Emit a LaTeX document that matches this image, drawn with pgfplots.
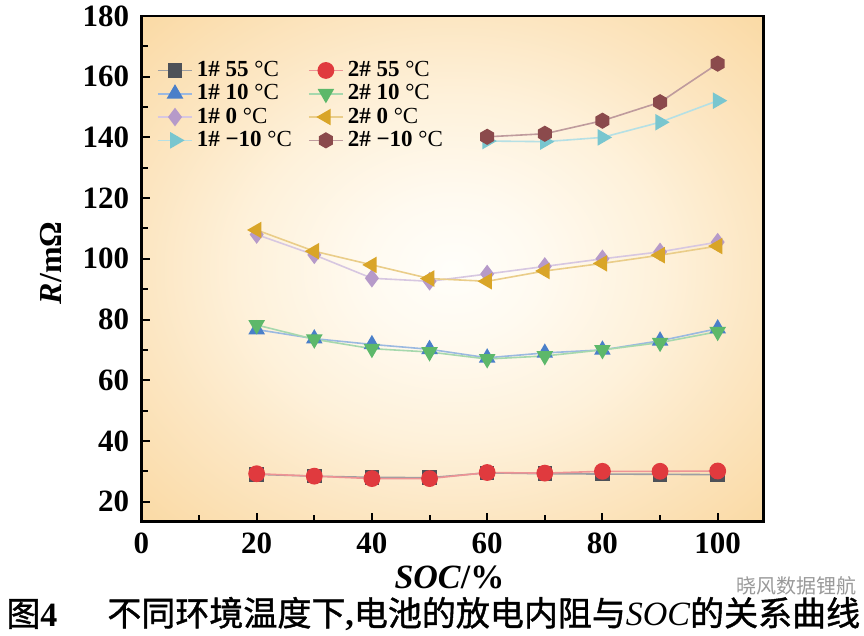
\documentclass[border=0pt]{standalone}
\usepackage{fontspec}
\setmainfont{Liberation Serif}
\newfontfamily\cjk[FakeBold=1.2]{Noto Sans CJK SC}
\newfontfamily\cjkw{Noto Sans CJK SC}
\usepackage{pgfplots}
\pgfplotsset{compat=1.18}

\definecolor{cA}{HTML}{4D5158}
\definecolor{cB}{HTML}{E03A3E}
\definecolor{cC}{HTML}{4A7FC9}
\definecolor{cD}{HTML}{5DB86A}
\definecolor{cE}{HTML}{B69AC9}
\definecolor{cF}{HTML}{D9A528}
\definecolor{cG}{HTML}{79C6CF}
\definecolor{cH}{HTML}{8B4A4C}
\definecolor{bg0}{HTML}{FFFEFA}
\definecolor{bg1}{HTML}{FFFAF0}
\definecolor{bg2}{HTML}{FEF1DA}
\definecolor{bg3}{HTML}{FCE6C2}
\definecolor{bg4}{HTML}{FAD9A3}

\pgfdeclareradialshading{bgshade}{\pgfpointorigin}{color(0bp)=(bg0); color(7bp)=(bg1); color(17bp)=(bg2); color(25bp)=(bg3); color(36bp)=(bg4); color(50bp)=(bg4)}

\pgfdeclareplotmark{hexagon}{%
  \pgfpathmoveto{\pgfqpointpolar{90}{\pgfplotmarksize}}%
  \pgfpathlineto{\pgfqpointpolar{150}{\pgfplotmarksize}}%
  \pgfpathlineto{\pgfqpointpolar{210}{\pgfplotmarksize}}%
  \pgfpathlineto{\pgfqpointpolar{270}{\pgfplotmarksize}}%
  \pgfpathlineto{\pgfqpointpolar{330}{\pgfplotmarksize}}%
  \pgfpathlineto{\pgfqpointpolar{30}{\pgfplotmarksize}}%
  \pgfpathclose
  \pgfusepathqfillstroke}

\begin{document}
\begin{tikzpicture}
\path[use as bounding box] (0,0) rectangle (432pt,318pt);
\begin{axis}[
  at={(70.7pt,57.15pt)}, anchor=south west,
  scale only axis, width=311.2pt, height=252.85pt,
  xmin=0, xmax=108, ymin=13.4, ymax=180,
  xtick={0,20,...,100}, ytick={20,40,...,180},
  minor x tick num=1, minor y tick num=1,
  tick pos=left, tick align=inside,
  major tick length=4.5pt, minor tick length=3.5pt,
  every tick/.style={black, line width=1pt},
  axis line style={line width=1.3pt},
  axis background/.style={shade, shading=bgshade},
  /pgf/number format/assume math mode=true,
  ticklabel style={font=\bfseries\fontsize{15.5}{18}\selectfont},
  xticklabel style={yshift=-2.2pt},
  yticklabel style={xshift=-2.6pt},
  xlabel={\textbf{\textit{SOC}/\%}},
  ylabel={\textbf{\textit{R}/m\symbol{"03A9}}},
  xlabel style={at={(axis description cs:0.495,0)}, anchor=center, yshift=-28pt, font=\fontsize{17}{20}\selectfont},
  ylabel style={at={([xshift=-45pt]axis description cs:0,0.512)}, anchor=center, rotate=0, font=\fontsize{16}{19}\selectfont},
  legend style={at={(axis description cs:0.015,0.927)}, anchor=north west, draw=none, fill=none,
    font=\bfseries\fontsize{11.5}{12}\selectfont,
    /tikz/every even column/.append style={column sep=6pt},
    row sep=-1.5pt},
  legend columns=2, legend cell align=left,
  every axis plot/.append style={line width=0.8pt},
]
\addplot[color=cA!55!white, mark=square*, mark size=3.25pt, mark options={draw=cA, fill=cA}]
 coordinates {(20,29.0)(30,28.4)(40,28.0)(50,27.9)(60,29.5)(70,29.2)(80,29.1)(90,29.0)(100,28.9)};
\addlegendentry{1\# 55 {\mdseries °C}}
\addplot[color=cB!55!white, mark=*, mark size=3.8pt, mark options={draw=cB, fill=cB}]
 coordinates {(20,29.2)(30,28.4)(40,27.6)(50,27.6)(60,29.6)(70,29.4)(80,30.0)(90,30.0)(100,30.1)};
\addlegendentry{2\# 55 {\mdseries °C}}
\addplot[color=cC!55!white, mark=triangle*, mark size=4pt, mark options={draw=cC, fill=cC}]
 coordinates {(20,76.7)(30,73.7)(40,71.8)(50,70.2)(60,67.4)(70,69.0)(80,70.0)(90,73.0)(100,77.0)};
\addlegendentry{1\# 10 {\mdseries °C}}
\addplot[color=cD!55!white, mark=triangle*, mark size=4pt, mark options={draw=cD, fill=cD, rotate=180}]
 coordinates {(20,78.2)(30,73.5)(40,70.4)(50,69.3)(60,67.0)(70,68.0)(80,70.0)(90,72.4)(100,76.0)};
\addlegendentry{2\# 10 {\mdseries °C}}
\addplot[color=cE!55!white, mark=diamond*, mark size=4pt, mark options={draw=cE, fill=cE}]
 coordinates {(20,108.0)(30,101.3)(40,93.6)(50,92.6)(60,95.0)(70,97.5)(80,100.0)(90,102.3)(100,105.5)};
\addlegendentry{1\# 0 {\mdseries °C}}
\addplot[color=cF!55!white, mark=triangle*, mark size=4pt, mark options={draw=cF, fill=cF, rotate=90}]
 coordinates {(20,109.5)(30,102.5)(40,98.0)(50,93.5)(60,92.6)(70,96.0)(80,98.5)(90,101.2)(100,104.2)};
\addlegendentry{2\# 0 {\mdseries °C}}
\addplot[color=cG!55!white, mark=triangle*, mark size=4pt, mark options={draw=cG, fill=cG, rotate=-90}]
 coordinates {(60,138.8)(70,138.6)(80,140.0)(90,145.0)(100,152.1)};
\addlegendentry{1\# −10 {\mdseries °C}}
\addplot[color=cH!55!white, mark=hexagon, mark size=3.6pt, mark options={draw=cH, fill=cH}]
 coordinates {(60,140.2)(70,141.2)(80,145.5)(90,151.6)(100,164.3)};
\addlegendentry{2\# −10 {\mdseries °C}}
\end{axis}
\node[anchor=west, inner sep=0pt, font=\cjk\fontsize{17}{19}\selectfont] at (3pt,11pt) {图{\rmfamily\bfseries 4}};
\node[anchor=west, inner sep=0pt, font=\cjk\fontsize{17}{19}\selectfont] at (53.5pt,11pt) {不同环境温度下{\rmfamily\bfseries ,}电池的放电内阻与{\rmfamily\itshape SOC}的关系曲线};
\node[anchor=west, inner sep=0pt, text=black!40, font=\cjkw\fontsize{10}{11}\selectfont] at (368pt,25pt) {晓风数据锂航};
\end{tikzpicture}
\end{document}
